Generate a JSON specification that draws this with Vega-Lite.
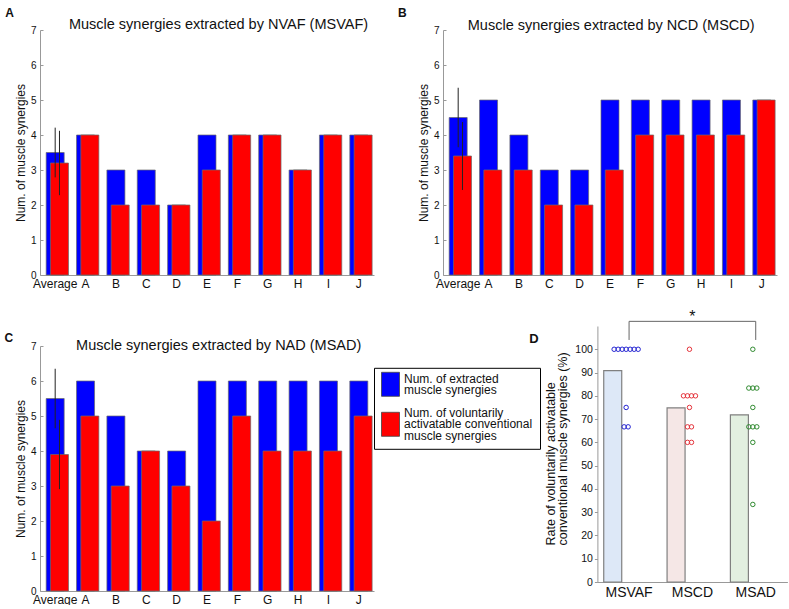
{
"$schema": "https://vega.github.io/schema/vega-lite/v6.json",
"padding": {"left": 4, "top": 6, "right": 0, "bottom": 0},
"background": "white",
"config": {"font": "Liberation Sans", "view": {"stroke": null},
  "axis": {"grid": false, "labelOverlap": false, "labelFont": "Liberation Sans", "titleFont": "Liberation Sans", "domainColor": "#999", "tickColor": "#999", "labelColor": "#111", "titleColor": "#111", "titleFontWeight": "normal"},
  "legend": {"labelFont": "Liberation Sans"}},
"datasets": {
 "syn": [
  {"p":"VAF","s":"ext","subj":"Average","v":3.5,"lo":2.79,"hi":4.21},
  {"p":"VAF","s":"ext","subj":"A","v":4},{"p":"VAF","s":"ext","subj":"B","v":3},{"p":"VAF","s":"ext","subj":"C","v":3},{"p":"VAF","s":"ext","subj":"D","v":2},{"p":"VAF","s":"ext","subj":"E","v":4},{"p":"VAF","s":"ext","subj":"F","v":4},{"p":"VAF","s":"ext","subj":"G","v":4},{"p":"VAF","s":"ext","subj":"H","v":3},{"p":"VAF","s":"ext","subj":"I","v":4},{"p":"VAF","s":"ext","subj":"J","v":4},
  {"p":"VAF","s":"vol","subj":"Average","v":3.2,"lo":2.28,"hi":4.12},
  {"p":"VAF","s":"vol","subj":"A","v":4},{"p":"VAF","s":"vol","subj":"B","v":2},{"p":"VAF","s":"vol","subj":"C","v":2},{"p":"VAF","s":"vol","subj":"D","v":2},{"p":"VAF","s":"vol","subj":"E","v":3},{"p":"VAF","s":"vol","subj":"F","v":4},{"p":"VAF","s":"vol","subj":"G","v":4},{"p":"VAF","s":"vol","subj":"H","v":3},{"p":"VAF","s":"vol","subj":"I","v":4},{"p":"VAF","s":"vol","subj":"J","v":4},
  {"p":"CD","s":"ext","subj":"Average","v":4.5,"lo":3.65,"hi":5.35},
  {"p":"CD","s":"ext","subj":"A","v":5},{"p":"CD","s":"ext","subj":"B","v":4},{"p":"CD","s":"ext","subj":"C","v":3},{"p":"CD","s":"ext","subj":"D","v":3},{"p":"CD","s":"ext","subj":"E","v":5},{"p":"CD","s":"ext","subj":"F","v":5},{"p":"CD","s":"ext","subj":"G","v":5},{"p":"CD","s":"ext","subj":"H","v":5},{"p":"CD","s":"ext","subj":"I","v":5},{"p":"CD","s":"ext","subj":"J","v":5},
  {"p":"CD","s":"vol","subj":"Average","v":3.4,"lo":2.43,"hi":4.37},
  {"p":"CD","s":"vol","subj":"A","v":3},{"p":"CD","s":"vol","subj":"B","v":3},{"p":"CD","s":"vol","subj":"C","v":2},{"p":"CD","s":"vol","subj":"D","v":2},{"p":"CD","s":"vol","subj":"E","v":3},{"p":"CD","s":"vol","subj":"F","v":4},{"p":"CD","s":"vol","subj":"G","v":4},{"p":"CD","s":"vol","subj":"H","v":4},{"p":"CD","s":"vol","subj":"I","v":4},{"p":"CD","s":"vol","subj":"J","v":5},
  {"p":"AD","s":"ext","subj":"Average","v":5.5,"lo":4.65,"hi":6.35},
  {"p":"AD","s":"ext","subj":"A","v":6},{"p":"AD","s":"ext","subj":"B","v":5},{"p":"AD","s":"ext","subj":"C","v":4},{"p":"AD","s":"ext","subj":"D","v":4},{"p":"AD","s":"ext","subj":"E","v":6},{"p":"AD","s":"ext","subj":"F","v":6},{"p":"AD","s":"ext","subj":"G","v":6},{"p":"AD","s":"ext","subj":"H","v":6},{"p":"AD","s":"ext","subj":"I","v":6},{"p":"AD","s":"ext","subj":"J","v":6},
  {"p":"AD","s":"vol","subj":"Average","v":3.9,"lo":2.91,"hi":4.89},
  {"p":"AD","s":"vol","subj":"A","v":5},{"p":"AD","s":"vol","subj":"B","v":3},{"p":"AD","s":"vol","subj":"C","v":4},{"p":"AD","s":"vol","subj":"D","v":3},{"p":"AD","s":"vol","subj":"E","v":2},{"p":"AD","s":"vol","subj":"F","v":5},{"p":"AD","s":"vol","subj":"G","v":4},{"p":"AD","s":"vol","subj":"H","v":4},{"p":"AD","s":"vol","subj":"I","v":4},{"p":"AD","s":"vol","subj":"J","v":5}
 ],
 "rate": [
  {"g":"MSVAF","r":100},{"g":"MSVAF","r":100},{"g":"MSVAF","r":100},{"g":"MSVAF","r":100},{"g":"MSVAF","r":100},{"g":"MSVAF","r":100},{"g":"MSVAF","r":100},{"g":"MSVAF","r":75},{"g":"MSVAF","r":66.67},{"g":"MSVAF","r":66.67},
  {"g":"MSCD","r":100},{"g":"MSCD","r":80},{"g":"MSCD","r":80},{"g":"MSCD","r":80},{"g":"MSCD","r":80},{"g":"MSCD","r":75},{"g":"MSCD","r":66.67},{"g":"MSCD","r":66.67},{"g":"MSCD","r":60},{"g":"MSCD","r":60},
  {"g":"MSAD","r":100},{"g":"MSAD","r":83.33},{"g":"MSAD","r":83.33},{"g":"MSAD","r":83.33},{"g":"MSAD","r":75},{"g":"MSAD","r":66.67},{"g":"MSAD","r":66.67},{"g":"MSAD","r":66.67},{"g":"MSAD","r":60},{"g":"MSAD","r":33.33}
 ],
 "bracket": [
  {"x1":"MSVAF","x2":"MSAD","y1":112,"y2":112},
  {"x1":"MSVAF","x2":"MSVAF","y1":104,"y2":112},
  {"x1":"MSAD","x2":"MSAD","y1":104,"y2":112}
 ],
 "star": [{"g":"MSCD","t":"*","y":112}]
},
"spacing": 20,
"vconcat": [
 {"hconcat": [
  {"width": 334, "height": 245, "data": {"name": "syn"}, "transform": [{"filter": "datum.p == 'VAF'"}],
   "layer": [
    {"layer": [
     {"transform": [{"filter": "datum.s == 'ext'"}], "mark": {"type": "bar", "width": {"band": 0.593}, "color": "#0000ff", "stroke": "#6a6a6a", "strokeWidth": 0.7},
      "encoding": {"x": {"field": "subj", "type": "nominal", "scale": {"domain": ["Average","A","B","C","D","E","F","G","H","I","J"], "paddingInner": 0, "paddingOuter": 0}, "axis": {"title": null, "labelAngle": 0, "labelFontSize": 12, "labelPadding": 3, "ticks": false}},
       "y": {"field": "v", "type": "quantitative", "scale": {"domain": [0, 7], "nice": false}, "axis": {"values": [0,1,2,3,4,5,6,7], "tickCount": 8, "labelOverlap": false, "title": "Num. of muscle synergies", "titleFontSize": 12, "titlePadding": 3, "labelFontSize": 10, "tickSize": -3, "labelPadding": 7}}}},
     {"transform": [{"filter": "datum.s == 'vol'"}], "mark": {"type": "bar", "width": {"band": 0.593}, "xOffset": 4.3, "color": "#ff0000", "stroke": "#6a6a6a", "strokeWidth": 0.7},
      "encoding": {"x": {"field": "subj", "type": "nominal"}, "y": {"field": "v", "type": "quantitative"}}},
     {"transform": [{"filter": "datum.s == 'vol' && datum.subj == 'Average'"}], "mark": {"type": "rule", "xOffset": 4.3, "color": "#222", "strokeWidth": 1},
      "encoding": {"x": {"field": "subj", "type": "nominal"}, "y": {"field": "lo", "type": "quantitative"}, "y2": {"field": "hi"}}}
    ]},
    {"transform": [{"filter": "datum.s == 'ext' && datum.subj == 'Average'"}], "mark": {"type": "rule", "color": "#222", "strokeWidth": 1},
     "encoding": {"x": {"field": "subj", "type": "nominal", "axis": {"orient": "top", "labels": false, "ticks": false, "domain": false, "title": "Muscle synergies extracted by NVAF (MSVAF)", "titleX": 178, "titleY": -1.7, "titleAlign": "center", "titleBaseline": "alphabetic", "titleFontSize": 14.5}},
      "y": {"field": "lo", "type": "quantitative", "axis": {"orient": "left", "labels": false, "ticks": false, "domain": false, "title": "A", "titleAngle": 0, "titleX": -35.3, "titleY": -13.3, "titleAlign": "left", "titleBaseline": "alphabetic", "titleFontSize": 12, "titleFontWeight": "bold"}},
      "y2": {"field": "hi"}}}
   ],
   "resolve": {"axis": {"x": "independent", "y": "independent"}}},
  {"width": 334, "height": 245, "data": {"name": "syn"}, "transform": [{"filter": "datum.p == 'CD'"}],
   "layer": [
    {"layer": [
     {"transform": [{"filter": "datum.s == 'ext'"}], "mark": {"type": "bar", "width": {"band": 0.593}, "color": "#0000ff", "stroke": "#6a6a6a", "strokeWidth": 0.7},
      "encoding": {"x": {"field": "subj", "type": "nominal", "scale": {"domain": ["Average","A","B","C","D","E","F","G","H","I","J"], "paddingInner": 0, "paddingOuter": 0}, "axis": {"title": null, "labelAngle": 0, "labelFontSize": 12, "labelPadding": 3, "ticks": false}},
       "y": {"field": "v", "type": "quantitative", "scale": {"domain": [0, 7], "nice": false}, "axis": {"values": [0,1,2,3,4,5,6,7], "tickCount": 8, "labelOverlap": false, "title": "Num. of muscle synergies", "titleFontSize": 12, "titlePadding": 3, "labelFontSize": 10, "tickSize": -3, "labelPadding": 7}}}},
     {"transform": [{"filter": "datum.s == 'vol'"}], "mark": {"type": "bar", "width": {"band": 0.593}, "xOffset": 4.3, "color": "#ff0000", "stroke": "#6a6a6a", "strokeWidth": 0.7},
      "encoding": {"x": {"field": "subj", "type": "nominal"}, "y": {"field": "v", "type": "quantitative"}}},
     {"transform": [{"filter": "datum.s == 'vol' && datum.subj == 'Average'"}], "mark": {"type": "rule", "xOffset": 4.3, "color": "#222", "strokeWidth": 1},
      "encoding": {"x": {"field": "subj", "type": "nominal"}, "y": {"field": "lo", "type": "quantitative"}, "y2": {"field": "hi"}}}
    ]},
    {"transform": [{"filter": "datum.s == 'ext' && datum.subj == 'Average'"}], "mark": {"type": "rule", "color": "#222", "strokeWidth": 1},
     "encoding": {"x": {"field": "subj", "type": "nominal", "axis": {"orient": "top", "labels": false, "ticks": false, "domain": false, "title": "Muscle synergies extracted by NCD (MSCD)", "titleX": 167.7, "titleY": -1, "titleAlign": "center", "titleBaseline": "alphabetic", "titleFontSize": 14.5}},
      "y": {"field": "lo", "type": "quantitative", "axis": {"orient": "left", "labels": false, "ticks": false, "domain": false, "title": "B", "titleAngle": 0, "titleX": -45.6, "titleY": -13.3, "titleAlign": "left", "titleBaseline": "alphabetic", "titleFontSize": 12, "titleFontWeight": "bold"}},
      "y2": {"field": "hi"}}}
   ],
   "resolve": {"axis": {"x": "independent", "y": "independent"}}}
 ], "spacing": 69, "bounds": "flush"},
 {"hconcat": [
  {"width": 334, "height": 265, "data": {"name": "syn"}, "transform": [{"filter": "datum.p == 'AD'"}],
   "layer": [
    {"layer": [
     {"transform": [{"filter": "datum.s == 'ext'"}], "mark": {"type": "bar", "width": {"band": 0.593}, "stroke": "#6a6a6a", "strokeWidth": 0.7},
      "encoding": {"x": {"field": "subj", "type": "nominal", "scale": {"domain": ["Average","A","B","C","D","E","F","G","H","I","J"], "paddingInner": 0, "paddingOuter": 0}, "axis": {"title": null, "labelAngle": 0, "labelFontSize": 12, "labelPadding": 3, "ticks": false}},
       "y": {"field": "v", "type": "quantitative", "scale": {"domain": [0, 7], "nice": false, "range": [265, 20]}, "axis": {"values": [0,1,2,3,4,5,6,7], "tickCount": 8, "labelOverlap": false, "title": "Num. of muscle synergies", "titleFontSize": 12, "titlePadding": 3, "labelFontSize": 10, "tickSize": -3, "labelPadding": 7}},
       "color": {"field": "s", "type": "nominal", "scale": {"domain": ["ext", "vol"], "range": ["#0000ff", "#ff0000"]},
        "legend": {"orient": "none", "legendX": 334, "legendY": 337.8, "title": null, "padding": 7, "strokeColor": "#000", "fillColor": "#fff", "symbolType": "M-1,-1.333H1V1.333H-1Z", "symbolSize": 324, "symbolStrokeColor": "#444", "symbolStrokeWidth": 0.8, "labelFontSize": 12, "labelLimit": 0, "labelOffset": 4, "rowPadding": 8, "labelColor": "#111",
         "labelExpr": "datum.value == 'ext' ? ['Num. of extracted', 'muscle synergies'] : ['Num. of voluntarily', 'activatable conventional', 'muscle synergies']",
         "encode": {"labels": {"update": {"lineHeight": {"value": 11.5}, "dy": {"signal": "datum.value == 'ext' ? -5.75 : -11.5"}}}}}}}},
     {"transform": [{"filter": "datum.s == 'vol'"}], "mark": {"type": "bar", "width": {"band": 0.593}, "xOffset": 4.3, "stroke": "#6a6a6a", "strokeWidth": 0.7},
      "encoding": {"x": {"field": "subj", "type": "nominal"}, "y": {"field": "v", "type": "quantitative"}, "color": {"field": "s", "type": "nominal"}}},
     {"transform": [{"filter": "datum.s == 'vol' && datum.subj == 'Average'"}], "mark": {"type": "rule", "xOffset": 4.3, "color": "#222", "strokeWidth": 1},
      "encoding": {"x": {"field": "subj", "type": "nominal"}, "y": {"field": "lo", "type": "quantitative"}, "y2": {"field": "hi"}}}
    ]},
    {"transform": [{"filter": "datum.s == 'ext' && datum.subj == 'Average'"}], "mark": {"type": "rule", "color": "#222", "strokeWidth": 1},
     "encoding": {"x": {"field": "subj", "type": "nominal", "axis": {"orient": "top", "labels": false, "ticks": false, "domain": false, "title": "Muscle synergies extracted by NAD (MSAD)", "titleX": 178.2, "titleY": 23.3, "titleAlign": "center", "titleBaseline": "alphabetic", "titleFontSize": 14.5}},
      "y": {"field": "lo", "type": "quantitative", "axis": {"orient": "left", "labels": false, "ticks": false, "domain": false, "title": "C", "titleAngle": 0, "titleX": -36, "titleY": 15.7, "titleAlign": "left", "titleBaseline": "alphabetic", "titleFontSize": 12, "titleFontWeight": "bold"}},
      "y2": {"field": "hi"}}}
   ],
   "resolve": {"axis": {"x": "independent", "y": "independent"}}},
  {"width": 190, "height": 256,
   "layer": [
    {"layer": [
     {"data": {"name": "rate"}, "mark": {"type": "bar", "stroke": "#808080", "strokeWidth": 1.2},
      "encoding": {"x": {"field": "g", "type": "nominal", "scale": {"domain": ["MSVAF","MSCD","MSAD"], "paddingInner": 0.2, "paddingOuter": 0.1}, "axis": {"title": null, "labelAngle": 0, "labelFontSize": 14, "labelPadding": 3, "ticks": false}},
       "y": {"aggregate": "mean", "field": "r", "type": "quantitative", "scale": {"domain": [0, 110], "nice": false},
        "axis": {"values": [0,10,20,30,40,50,60,70,80,90,100], "tickCount": 11, "labelOverlap": false, "title": ["Rate of voluntarily activatable", "conventional muscle synergies (%)"], "titleFontSize": 12.5, "titleLineHeight": 12, "titleAngle": -90, "titleAlign": "left", "titleBaseline": "top", "titleX": -52.7, "titleY": 219, "labelFontSize": 10.5, "tickSize": 3, "labelPadding": 2}},
       "fill": {"field": "g", "type": "nominal", "scale": {"domain": ["MSVAF","MSCD","MSAD"], "range": ["#dde8f7", "#f5e7e6", "#e2efe0"]}, "legend": null}}},
     {"data": {"name": "rate"},
      "transform": [{"window": [{"op": "row_number", "as": "k"}, {"op": "count", "as": "n"}], "groupby": ["g", "r"], "frame": [null, null]}, {"calculate": "datum.k - (datum.n + 1) / 2", "as": "off"}],
      "mark": {"type": "point", "shape": "circle", "filled": false, "size": 20, "strokeWidth": 1, "opacity": 1},
      "encoding": {"x": {"field": "g", "type": "nominal"}, "xOffset": {"field": "off", "type": "quantitative", "scale": {"domain": [-5.6, 7.06]}},
       "y": {"field": "r", "type": "quantitative"},
       "stroke": {"field": "g", "type": "nominal", "scale": {"domain": ["MSVAF","MSCD","MSAD"], "range": ["#2323d2", "#e5333b", "#2f8a2f"]}, "legend": null}}},
     {"data": {"name": "bracket"}, "mark": {"type": "rule", "color": "#666", "strokeWidth": 1, "clip": false},
      "encoding": {"x": {"field": "x1", "type": "nominal"}, "x2": {"field": "x2"}, "y": {"field": "y1", "type": "quantitative"}, "y2": {"field": "y2"}}}
    ]},
    {"data": {"name": "star"}, "mark": {"type": "text", "baseline": "bottom", "dy": 4, "fontSize": 16, "color": "#111"},
     "encoding": {"x": {"field": "g", "type": "nominal", "axis": {"orient": "top", "labels": false, "ticks": false, "domain": false, "title": "D", "titleX": -68.7, "titleY": 16.3, "titleAlign": "left", "titleBaseline": "alphabetic", "titleFontSize": 13, "titleFontWeight": "bold"}},
      "y": {"field": "y", "type": "quantitative", "axis": null}, "text": {"field": "t"}}}
   ],
   "resolve": {"axis": {"x": "independent", "y": "independent"}}}
 ], "spacing": 223.4, "bounds": "flush"}
]
}
